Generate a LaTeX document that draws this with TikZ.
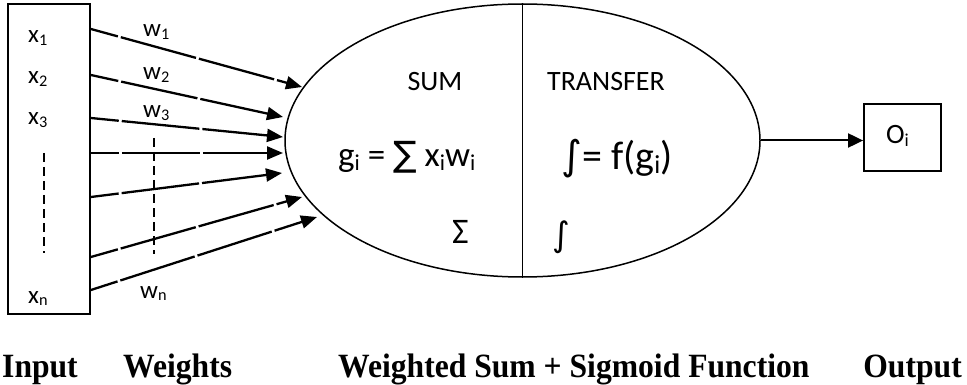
\documentclass[tikz,border=0pt]{standalone}
\usepackage{fontspec}
\setmainfont{Carlito}
\newfontfamily\symfont{DejaVu Sans}
\newfontfamily\capfont{Liberation Serif}
\usetikzlibrary{arrows.meta, positioning, shapes.geometric}
\newcommand\lowsub[1]{\raisebox{-0.1em}{\scalebox{0.65}{#1}}}
\newcommand\capt[1]{\scalebox{0.93}[1]{#1}}

\begin{document}
\begin{tikzpicture}[
  x=1pt, y=-1pt,
  box/.style={draw, line width=1.8pt, inner sep=0pt},
  lbl/.style={font=\fontsize{25}{25}\selectfont, inner sep=0pt, anchor=base west},
  big/.style={font=\fontsize{28}{28}\selectfont, inner sep=0pt, anchor=base},
  caption/.style={font=\capfont\bfseries\fontsize{34}{34}\selectfont, inner sep=0pt, anchor=base west},
  wire/.style={-{Triangle[length=16pt,width=13pt]}, line width=2.3pt, dash pattern=on 78pt off 3pt, dash phase=50pt},
  arrow/.style={-{Triangle[length=15pt,width=14pt]}, line width=2pt},
  dots/.style={line width=1.3pt, dash pattern=on 9pt off 5pt},
]
  \useasboundingbox (0,0) rectangle (967,385);
  \node[box, minimum width=82pt, minimum height=310pt] (inbox) at (49,159) {};
  \node[draw, ellipse, line width=1.5pt, minimum width=475pt, minimum height=273pt, inner sep=0pt] (neuron) at (522.5,140.5) {};
  \node[box, minimum width=77pt, minimum height=67pt] (outbox) at (902.5,137.5) {};
  \node[big, anchor=base west] (oi) at (886,144) {O\lowsub{i}};
  \draw[line width=1.5pt] (neuron.north) -- (neuron.south);
  \draw[arrow] (neuron.east) -- (neuron.east -| outbox.west);

  \node[lbl] (x1) at (28,43) {x\lowsub{1}};
  \node[lbl] (x2) at (28,84) {x\lowsub{2}};
  \node[lbl] (x3) at (28,125) {x\lowsub{3}};
  \node[lbl] (xn) at (28,303) {x\lowsub{n}};
  \node[lbl] (w1) at (143,37) {w\lowsub{1}};
  \node[lbl] (w2) at (143,80) {w\lowsub{2}};
  \node[lbl] (w3) at (143,118) {w\lowsub{3}};
  \node[lbl] (wn) at (140,298) {w\lowsub{n}};
  \draw[dots] (44,153) -- (44,253);
  \draw[dots] (154,138) -- (154,254);

  \foreach \i/\a/\tx/\ty in {1/29/302/87, 2/75/283/117, 3/118/283/137, 4/153/283/153, 5/197/282/173, 6/257/302/197, 7/290/317/217} {
    \coordinate (s\i) at (inbox.east |- 0,\a);
    \coordinate (t\i) at (\tx,\ty);
    \draw[wire] (s\i) -- (t\i);
  }

  \node[big] (sum) at (435,91) {SUM};
  \node[big] (transfer) at (606,91) {TRANSFER};
  \node[anchor=base west, inner sep=0pt, font=\fontsize{35}{35}\selectfont] (gsum) at (338,167) {g\lowsub{i} = {\symfont ∑} x\lowsub{i}w\lowsub{i}};
  \node[anchor=base west, inner sep=0pt, font=\fontsize{40}{40}\selectfont] (fg) at (561,170) {{\symfont ∫}= f(g\lowsub{i})};
  \node[anchor=base west, inner sep=0pt, font=\fontsize{36}{36}\selectfont] (sigma) at (452,243) {Σ};
  \node[anchor=base west, inner sep=0pt, font=\fontsize{34}{34}\selectfont] (integ) at (552,246) {{\symfont ∫}};

  \node[caption] (input) at (2,377) {\capt{Input}};
  \node[caption] (weights) at (123,377) {\capt{Weights}};
  \node[caption] (wsum) at (338,377) {\capt{Weighted Sum + Sigmoid Function}};
  \node[caption, anchor=base east] (output) at (962,377) {\capt{Output}};
\end{tikzpicture}
\end{document}
